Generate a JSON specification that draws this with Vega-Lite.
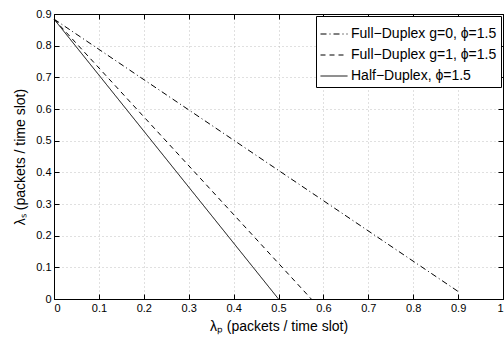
{
  "$schema": "https://vega.github.io/schema/vega-lite/v6.json",
  "width": 449,
  "height": 285,
  "autosize": "none",
  "padding": {"left": 54, "top": 14, "right": 1, "bottom": 44},
  "background": "white",
  "config": {
    "font": "Liberation Sans",
    "view": {"stroke": "black", "strokeWidth": 1},
    "axis": {
      "domainColor": "black",
      "tickColor": "black",
      "labelColor": "black",
      "titleColor": "black",
      "labelFontSize": 11,
      "labelFont": "Liberation Sans",
      "titleFont": "Liberation Sans",
      "titleFontSize": 14,
      "titleFontWeight": "normal",
      "gridColor": "#c0c0c0",
      "gridDash": [1, 3],
      "gridWidth": 1,
      "tickSize": -5,
      "labelPadding": 8
    }
  },
  "data": {
    "values": [
      {"series": "Full−Duplex g=0, ϕ=1.5", "x": 0, "y": 0.884},
      {"series": "Full−Duplex g=0, ϕ=1.5", "x": 0.904, "y": 0.02},
      {"series": "Full−Duplex g=1, ϕ=1.5", "x": 0, "y": 0.884},
      {"series": "Full−Duplex g=1, ϕ=1.5", "x": 0.573, "y": 0},
      {"series": "Half−Duplex, ϕ=1.5", "x": 0, "y": 0.884},
      {"series": "Half−Duplex, ϕ=1.5", "x": 0.5, "y": 0}
    ]
  },
  "layer": [
    {
      "mark": {"type": "line", "color": "black", "strokeWidth": 1},
      "encoding": {
        "x": {
          "field": "x", "type": "quantitative",
          "scale": {"domain": [0, 1], "nice": false, "zero": false},
          "axis": {
            "values": [0, 0.1, 0.2, 0.3, 0.4, 0.5, 0.6, 0.7, 0.8, 0.9, 1],
            "format": "~g",
            "grid": true,
            "title": "λₚ (packets / time slot)",
            "titlePadding": 6
          }
        },
        "y": {
          "field": "y", "type": "quantitative",
          "scale": {"domain": [0, 0.9], "nice": false, "zero": false},
          "axis": {
            "values": [0, 0.1, 0.2, 0.3, 0.4, 0.5, 0.6, 0.7, 0.8, 0.9],
            "format": "~g",
            "grid": true,
            "title": "λₛ (packets / time slot)",
            "titlePadding": 8
          }
        },
        "strokeDash": {
          "field": "series", "type": "nominal",
          "scale": {
            "domain": ["Full−Duplex g=0, ϕ=1.5", "Full−Duplex g=1, ϕ=1.5", "Half−Duplex, ϕ=1.5"],
            "range": [[6, 3, 1, 3], [5, 4], [1, 0]]
          },
          "legend": {
            "orient": "top-right",
            "offset": 2,
            "title": null,
            "strokeColor": "black",
            "fillColor": "white",
            "padding": 4,
            "labelFontSize": 14,
            "labelColor": "black",
            "labelFont": "Liberation Sans",
            "labelLimit": 0,
            "symbolType": "M-1,0H1",
            "symbolStrokeColor": "black",
            "symbolStrokeWidth": 1,
            "symbolSize": 729,
            "rowPadding": 0,
            "labelOffset": 3
          }
        }
      }
    },
    {
      "mark": {"type": "line", "strokeOpacity": 0},
      "encoding": {
        "x": {
          "field": "x", "type": "quantitative",
          "scale": {"domain": [0, 1], "nice": false, "zero": false},
          "axis": {"orient": "top", "values": [0, 0.1, 0.2, 0.3, 0.4, 0.5, 0.6, 0.7, 0.8, 0.9, 1], "labels": false, "title": null, "grid": false}
        },
        "y": {
          "field": "y", "type": "quantitative",
          "scale": {"domain": [0, 0.9], "nice": false, "zero": false},
          "axis": {"orient": "right", "values": [0, 0.1, 0.2, 0.3, 0.4, 0.5, 0.6, 0.7, 0.8, 0.9], "labels": false, "title": null, "grid": false}
        },
        "detail": {"field": "series", "type": "nominal"}
      }
    }
  ],
  "resolve": {"axis": {"x": "independent", "y": "independent"}}
}
